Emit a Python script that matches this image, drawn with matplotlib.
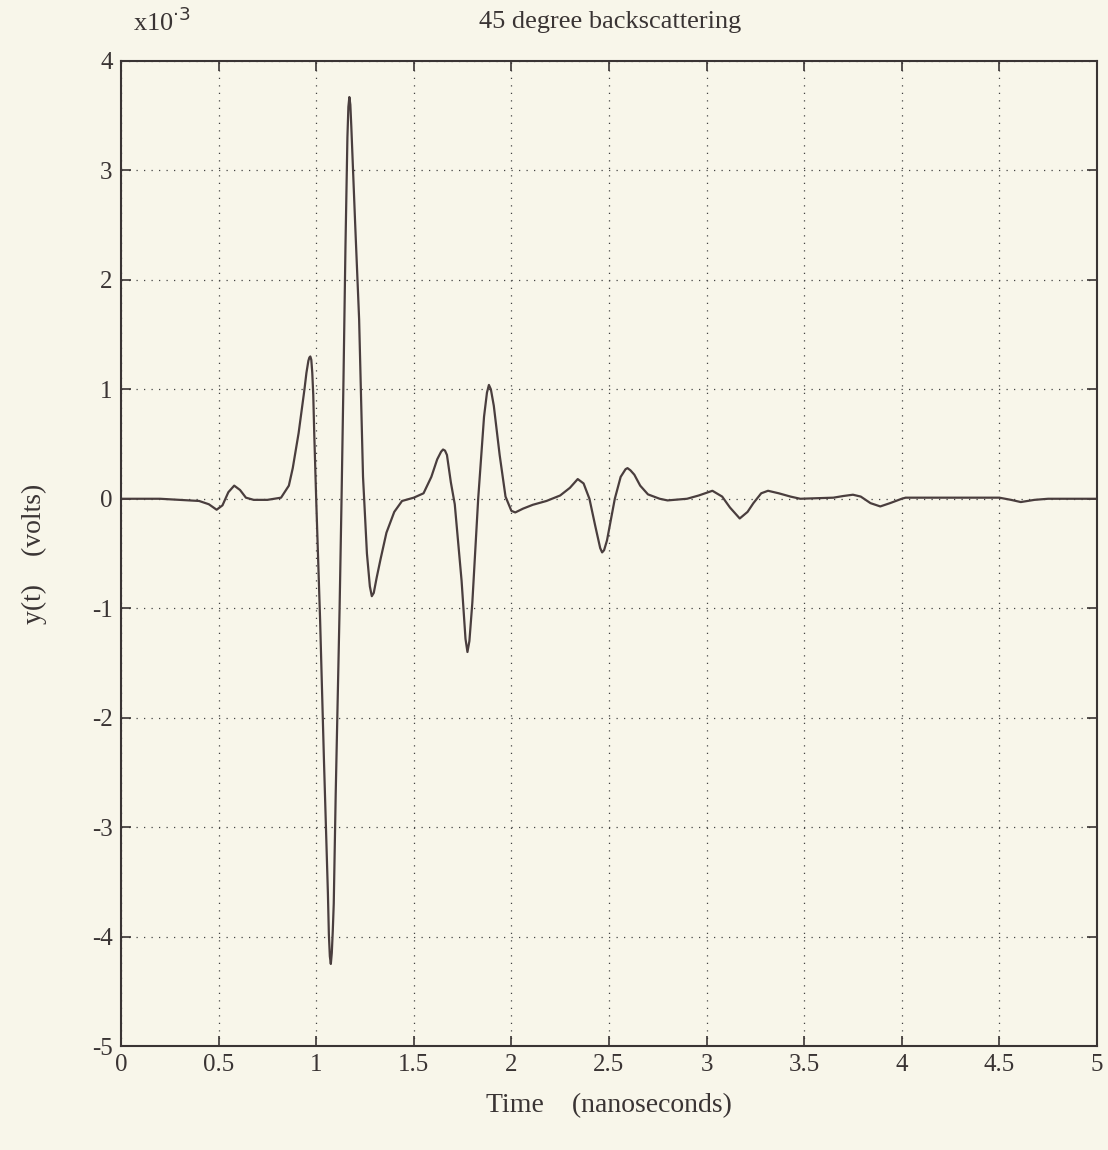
import matplotlib
matplotlib.use("Agg")
import matplotlib.pyplot as plt

plt.rcParams.update({
    "font.family": ["Liberation Serif", "DejaVu Serif"],
    "axes.unicode_minus": False,
})

# backscattered pulse, 45 degrees (time in ns, amplitude in 1e-3 V)
t_ns = [0.00, 0.20, 0.30, 0.40, 0.45, 0.49, 0.52, 0.55, 0.58, 0.61, 0.64,
        0.68, 0.75, 0.82, 0.86, 0.88, 0.91, 0.94, 0.95, 0.96, 0.965, 0.97,
        0.975, 0.98, 0.985, 0.99, 1.00, 1.02, 1.04, 1.06, 1.065, 1.07, 1.075,
        1.08, 1.085, 1.09, 1.10, 1.12, 1.13, 1.14, 1.15, 1.16, 1.165, 1.17,
        1.175, 1.18, 1.20, 1.22, 1.24, 1.26, 1.275, 1.285, 1.295, 1.31, 1.33,
        1.36, 1.40, 1.44, 1.50, 1.55, 1.59, 1.62, 1.64, 1.65, 1.66, 1.67,
        1.69, 1.71, 1.745, 1.765, 1.775, 1.785, 1.80, 1.83, 1.86, 1.875,
        1.885, 1.895, 1.91, 1.94, 1.97, 2.00, 2.02, 2.06, 2.11, 2.18, 2.25,
        2.30, 2.34, 2.37, 2.40, 2.43, 2.455, 2.465, 2.475, 2.49, 2.53, 2.56,
        2.585, 2.595, 2.61, 2.63, 2.66, 2.70, 2.76, 2.80, 2.90, 2.96, 3.03,
        3.08, 3.12, 3.17, 3.21, 3.24, 3.28, 3.315, 3.37, 3.43, 3.48, 3.65,
        3.70, 3.75, 3.79, 3.84, 3.89, 3.94, 4.00, 4.02, 4.40, 4.50, 4.56,
        4.61, 4.68, 4.75, 5.00]
y_mv = [0.00, 0.00, -0.01, -0.02, -0.05, -0.10, -0.06, 0.06, 0.12, 0.08, 0.01,
        -0.01, -0.01, 0.01, 0.12, 0.28, 0.60, 1.00, 1.15, 1.26, 1.29, 1.30,
        1.27, 1.15, 0.95, 0.60, 0.00, -1.10, -2.40, -3.60, -3.98, -4.18, -4.25,
        -4.15, -3.95, -3.70, -2.70, -1.00, 0.00, 1.10, 2.30, 3.30, 3.58, 3.67,
        3.60, 3.40, 2.50, 1.64, 0.20, -0.50, -0.80, -0.89, -0.86, -0.72, -0.55,
        -0.31, -0.12, -0.02, 0.01, 0.05, 0.20, 0.36, 0.43, 0.45, 0.44, 0.40,
        0.15, -0.05, -0.75, -1.28, -1.40, -1.30, -0.95, 0.00, 0.75, 0.97,
        1.04, 1.00, 0.85, 0.40, 0.02, -0.11, -0.125, -0.09, -0.055, -0.02, 0.03,
        0.10, 0.18, 0.14, 0.00, -0.25, -0.45, -0.49, -0.47, -0.38, 0.00, 0.20,
        0.27, 0.28, 0.26, 0.22, 0.12, 0.04, 0.00, -0.015, 0.00, 0.03, 0.073,
        0.02, -0.08, -0.18, -0.12, -0.04, 0.05, 0.073, 0.05, 0.02, 0.00, 0.01,
        0.025, 0.037, 0.02, -0.04, -0.07, -0.04, 0.00, 0.01, 0.01, 0.01, -0.01,
        -0.03, -0.01, 0.00, 0.00]

x_ticks = [0, 0.5, 1, 1.5, 2, 2.5, 3, 3.5, 4, 4.5, 5]
x_labels = ["0", "0.5", "1", "1.5", "2", "2.5", "3", "3.5", "4", "4.5", "5"]
y_ticks = [-5, -4, -3, -2, -1, 0, 1, 2, 3, 4]

BG = "#f8f6ea"
INK = "#3a3434"

fig = plt.figure(figsize=(11.08, 11.5), dpi=100, facecolor=BG)
ax = fig.add_axes([0.1092, 0.0904, 0.8808, 0.8566], facecolor=BG)

ax.plot(t_ns, y_mv, color="#4a3e3e", lw=1.6)

ax.set_xlim(0, 5)
ax.set_ylim(-5, 4)
ax.set_xticks(x_ticks)
ax.set_xticklabels(x_labels)
ax.set_yticks(y_ticks)
ax.grid(True, color="#444444", lw=0.9, linestyle=(0, (1, 5)))
ax.tick_params(direction="in", length=7, width=1.2, top=True, right=True,
               labelsize=18, colors=INK, pad=6)
for s in ax.spines.values():
    s.set_color(INK)
    s.set_linewidth(1.5)

ax.set_xlabel("Time    (nanoseconds)", fontsize=20, color=INK, labelpad=12)
ax.set_ylabel("y(t)    (volts)", fontsize=20, color=INK, labelpad=32)
fig.text(0.551, 0.981, "45 degree backscattering", ha="center", va="center",
         fontsize=19, color=INK)
fig.text(0.146, 0.981, r"x10$^{\cdot 3}$", ha="center", va="center",
         fontsize=19, color=INK)

fig.savefig("out.png", dpi=100, facecolor=BG)
